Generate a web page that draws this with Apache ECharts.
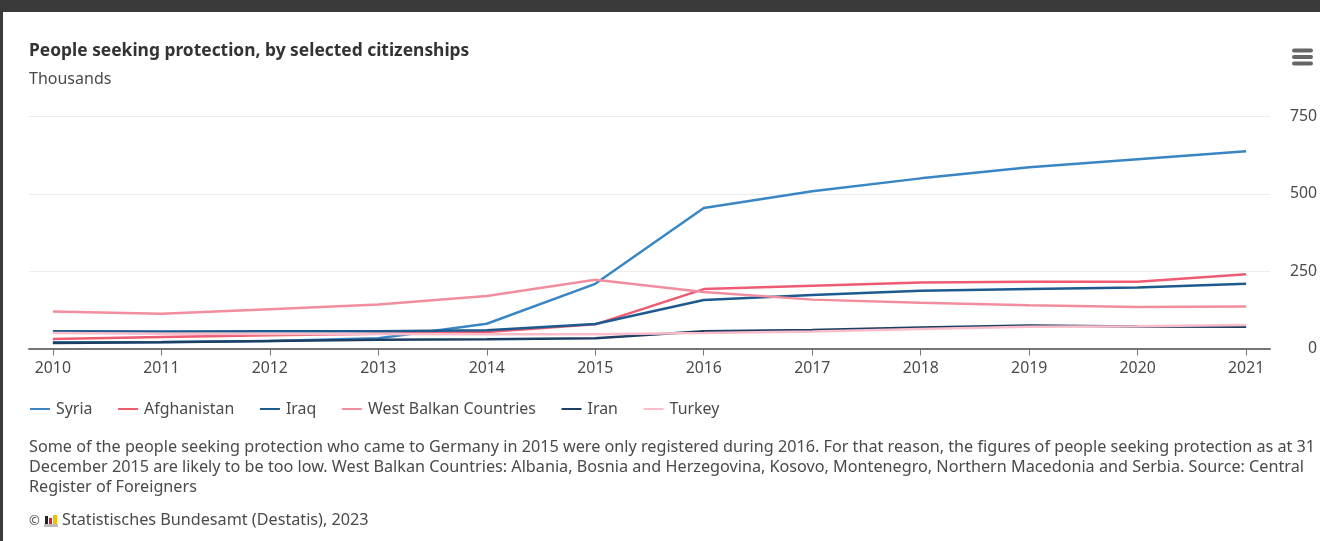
<!DOCTYPE html>
<html>
<head>
<meta charset="utf-8">
<style>
html,body{margin:0;padding:0;background:#fff;overflow:hidden}
#chart{width:1320px;height:541px}
</style>
<script src="https://cdn.jsdelivr.net/npm/echarts@6/dist/echarts.min.js"></script>
</head>
<body>
<div id="chart"></div>
<script>
// Protection seekers in Germany, thousands, year-end registers
const years = [2010,2011,2012,2013,2014,2015,2016,2017,2018,2019,2020,2021];
const syria = [20,21,24,33,80,209,454,508,550,586,612,638];
const afghanistan = [31,37,43,48,53,78,192,203,213,216,216,240];
const iraq = [56,55,56,56,59,79,157,173,187,192,197,209];
const westBalkan = [120,112,127,142,170,222,183,158,148,140,134,136];
const iran = [18,20,24,28,30,33,56,60,68,74,71,70];
const turkey = [50,48,47,47,46,46,50,55,63,70,72,76];
const seriesNames = ['Syria','Afghanistan','Iraq','West Balkan Countries','Iran','Turkey'];
const seriesValues = [syria,afghanistan,iraq,westBalkan,iran,turkey];
const seriesColors = ['#3a86c4','#ee5b72','#1e5a8e','#f28d9f','#1c3f63','#fbbdca'];
const noteLines = [
  'Some of the people seeking protection who came to Germany in 2015 were only registered during 2016. For that reason, the figures of people seeking protection as at 31',
  'December 2015 are likely to be too low. West Balkan Countries: Albania, Bosnia and Herzegovina, Kosovo, Montenegro, Northern Macedonia and Serbia. Source: Central',
  'Register of Foreigners'
];

const FONT = '"Noto Sans", "Open Sans", sans-serif';
const TEXT = '#4a4a4a';

const chart = echarts.init(document.getElementById('chart'), null, {renderer:'canvas'});

const textAt = (x, y, text, size, extra) => ({
  type:'text', x, y,
  style:Object.assign({text, fontFamily:FONT, fontSize:size, fill:TEXT, textVerticalAlign:'middle'}, extra||{})
});
const box = (x, y, width, height, fill, r) => ({type:'rect', shape:{x,y,width,height,r:r||0}, style:{fill}, silent:true});

chart.setOption({
  animation:false,
  backgroundColor:'#ffffff',
  grid:{left:29, right:50, top:116.5, height:232},
  xAxis:{
    type:'value', min:2009.78, max:2021.22,
    splitLine:{show:false},
    axisLine:{show:true, lineStyle:{color:'#757575', width:2}},
    axisTick:{show:true, length:7, lineStyle:{color:'#757575', width:1}, customValues:years},
    axisLabel:{customValues:years, color:TEXT, fontFamily:FONT, fontSize:15.8, margin:12, formatter:v=>String(v)}
  },
  yAxis:{
    type:'value', position:'right', min:0, max:750, interval:250,
    axisLine:{show:false}, axisTick:{show:false},
    splitLine:{lineStyle:{color:'#ececec', width:1}},
    axisLabel:{color:TEXT, fontFamily:FONT, fontSize:15.8, align:'right', margin:47, padding:[3,0,0,0]}
  },
  legend:{
    left:25, top:396, icon:'rect', itemWidth:20, itemHeight:2, itemGap:25.7,
    textStyle:{color:TEXT, fontFamily:FONT, fontSize:15.9, padding:[0,0,0,1]},
    data:seriesNames
  },
  series:seriesNames.map((name,i)=>({
    name, type:'line', showSymbol:false, symbol:'none', smooth:false,
    color:seriesColors[i], lineStyle:{width:2.5, color:seriesColors[i]},
    data:years.map((y,k)=>[y, seriesValues[i][k]])
  })),
  graphic:[
    box(0,0,1320,12,'#3a3a3a'),
    box(0,12,3,529,'#3a3a3a'),
    textAt(29,51,'People seeking protection, by selected citizenships',17.4,{fontWeight:'bold', fill:'#333333'}),
    textAt(29,79.5,'Thousands',16),
    box(1292,48.5,21,4,'#666666',2),
    box(1292,55,21,4,'#666666',2),
    box(1292,61.5,21,4,'#666666',2),
    ...noteLines.map((line,i)=>textAt(29,447.5+i*20,line,16.2)),
    textAt(29,521.5,'©',13),
    box(44,524,14,3,'#bdbdbd'),
    box(45,516,3,8,'#222222'),
    box(49,518,3,6,'#d8202c'),
    box(53,515,4,9,'#f0c000'),
    textAt(62,520.5,'Statistisches Bundesamt (Destatis), 2023',16.2)
  ]
});
</script>
</body>
</html>
